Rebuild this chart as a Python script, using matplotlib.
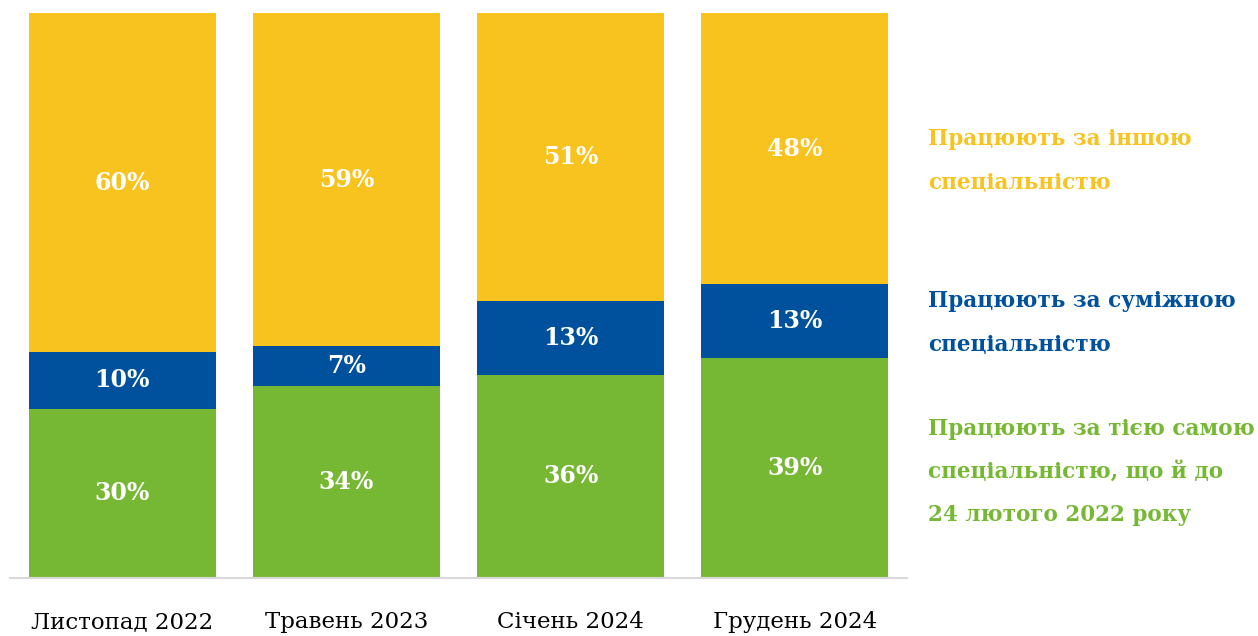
import matplotlib.pyplot as plt
import numpy as np

plt.rcParams['font.family'] = ['DejaVu Serif']

# дані
periods = ['Листопад 2022', 'Травень 2023', 'Січень 2024', 'Грудень 2024']
same_spec = [30, 34, 36, 39]
related_spec = [10, 7, 13, 13]
other_spec = [60, 59, 51, 48]

legend_labels = [
    'Працюють за іншою\nспеціальністю',
    'Працюють за суміжною\nспеціальністю',
    'Працюють за тією самою\nспеціальністю, що й до\n24 лютого 2022 року',
]

c_yellow = '#F9C31F'
c_blue = '#00519D'
c_green = '#76B833'

fig = plt.figure(figsize=(12.58, 6.36), dpi=100)
ax = fig.add_axes([10 / 1258, 58 / 636, 897 / 1258, 565 / 636])

x = np.arange(len(periods))
w = 0.834
same = np.array(same_spec)
rel = np.array(related_spec)
oth = np.array(other_spec)

ax.bar(x, same, w, color=c_green)
ax.bar(x, rel, w, bottom=same, color=c_blue)
ax.bar(x, oth, w, bottom=same + rel, color=c_yellow)

for i in range(len(x)):
    for b, v in [(0, same[i]), (same[i], rel[i]), (same[i] + rel[i], oth[i])]:
        ax.text(x[i], b + v / 2, f'{v}%', ha='center', va='center',
                color='white', fontsize=17, fontweight='bold')

ax.set_xlim(-0.5, 3.5)
ax.set_ylim(0, 100)
ax.set_yticks([])
ax.set_xticks(x)
ax.set_xticklabels(periods, fontsize=16.5)
ax.tick_params(axis='x', length=0, pad=24)
for s in ['top', 'right', 'left']:
    ax.spines[s].set_visible(False)
ax.spines['bottom'].set_color('#d9d9d9')
ax.spines['bottom'].set_linewidth(1.5)

# підписи справа замість легенди
ly = [(161, c_yellow), (323, c_blue), (472, c_green)]
for (y, c), lab in zip(ly, legend_labels):
    fig.text(928 / 1258, 1 - y / 636, lab, color=c, fontsize=15.5,
             fontweight='bold', va='center', ha='left', linespacing=2.25)

fig.savefig('out.png', dpi=100)
